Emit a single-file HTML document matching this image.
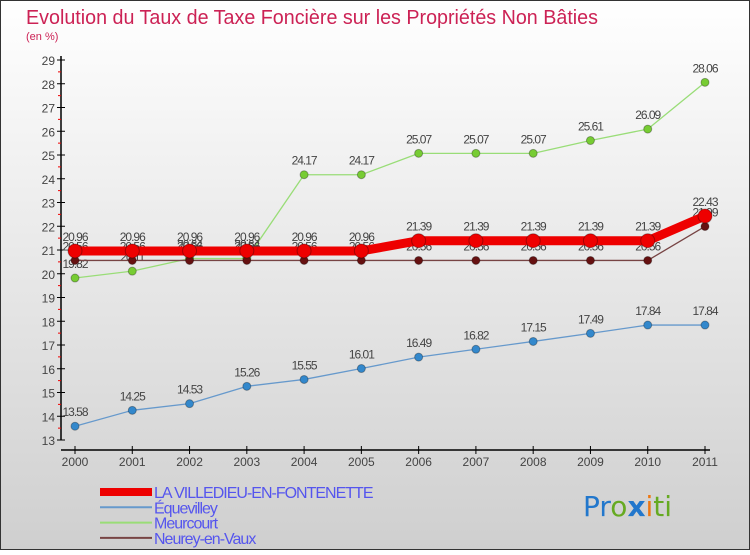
<!DOCTYPE html>
<html><head><meta charset="utf-8"><style>
body{margin:0;}
#c{width:750px;height:550px;position:relative;font-family:"Liberation Sans",sans-serif;}
</style></head><body>
<div id="c">
<svg id="s" width="750" height="550" xmlns="http://www.w3.org/2000/svg" font-family="Liberation Sans, sans-serif">
<defs><linearGradient id="bg" x1="0" y1="0" x2="0" y2="1"><stop offset="0" stop-color="#ffffff"/><stop offset="1" stop-color="#cfcfcf"/></linearGradient></defs>
<rect x="0.5" y="0.5" width="749" height="549" fill="url(#bg)" stroke="#333"/>
<text x="26" y="24" font-size="20" fill="#cc2255" textLength="572" lengthAdjust="spacingAndGlyphs">Evolution du Taux de Taxe Foncière sur les Propriétés Non Bâties</text>
<text x="26" y="40" font-size="11" fill="#cc2255">(en %)</text>
<g id="axes"></g><g id="series"></g><g id="legend"></g>
<text x="583" y="516" font-size="28" font-family="DejaVu Sans, sans-serif"><tspan fill="#2277cc">Pr</tspan><tspan fill="#66aa22">o</tspan><tspan fill="#2277cc" font-weight="bold">x</tspan><tspan fill="#ee7711">i</tspan><tspan fill="#66aa22">ti</tspan></text>
</svg>
</div>
<script>
const years=[2000,2001,2002,2003,2004,2005,2006,2007,2008,2009,2010,2011];
const villedieu=[20.96,20.96,20.96,20.96,20.96,20.96,21.39,21.39,21.39,21.39,21.39,22.43];
const equevilley=[13.58,14.25,14.53,15.26,15.55,16.01,16.49,16.82,17.15,17.49,17.84,17.84];
const meurcourt=[19.82,20.11,20.64,20.64,24.17,24.17,25.07,25.07,25.07,25.61,26.09,28.06];
const neurey=[20.56,20.56,20.56,20.56,20.56,20.56,20.56,20.56,20.56,20.56,20.56,21.99];
const yTicks=[13,14,15,16,17,18,19,20,21,22,23,24,25,26,27,28,29];
const NS="http://www.w3.org/2000/svg";
const xS=i=>75+i*(630/11);
const yS=v=>440-(v-13)*23.75;
function mk(t,a,p){const e=document.createElementNS(NS,t);for(const k in a)e.setAttribute(k,a[k]);p.appendChild(e);return e;}
const ax=document.getElementById('axes');
const yl=mk('line',{x1:61,y1:56,x2:61,y2:440,stroke:'#000','stroke-width':1.5},ax);


yTicks.forEach(v=>{
 mk('line',{x1:57,y1:yS(v),x2:65,y2:yS(v),stroke:'#000'},ax);
 if(v<29) mk('line',{x1:58,y1:yS(v+0.5),x2:61,y2:yS(v+0.5),stroke:'#e00'},ax);
 const t=mk('text',{x:55,y:yS(v)+5,'font-size':12,'text-anchor':'end',fill:'#444'},ax);t.textContent=v;
 
 
});
const xl=mk('line',{x1:61,y1:450,x2:710,y2:450,stroke:'#000','stroke-width':1.5},ax);


years.forEach((y,i)=>{
 mk('line',{x1:xS(i),y1:446,x2:xS(i),y2:454,stroke:'#000'},ax);
 const t=mk('text',{x:xS(i),y:466,'font-size':12,'text-anchor':'middle',fill:'#444'},ax);t.textContent=y;
 
 
});
const sg=document.getElementById('series');
function series(vals,color,dot,w,r,name,lblOff){
 const g=mk('g',{},sg);
 
 
 mk('polyline',{points:vals.map((v,i)=>xS(i)+','+yS(v)).join(' '),fill:'none',stroke:color,'stroke-width':w,'stroke-linejoin':'round'},g);
 vals.forEach((v,i)=>{
  const c=mk('circle',{cx:xS(i),cy:yS(v),r:r,fill:dot,stroke:'rgba(0,0,0,0.3)'},g);
  
  
  const t=mk('text',{x:xS(i),y:yS(v)+lblOff,'font-size':12,'text-anchor':'middle',fill:'#444','letter-spacing':'-1'},g);
  t.textContent=v.toFixed(2).replace(/0$/,'').replace(/\.$/,'');
  
  
 });
}
series(equevilley,'#6699cc','#3388cc',1.3,4,'equevilley-series',-10);
series(meurcourt,'#99dd77','#77cc33',1.3,4,'meurcourt-series',-10);
series(neurey,'#774444','#661111',1.3,4,'neurey-series',-10);
series(villedieu,'#ee0000','#ee0000',9,7,'villedieu-series',-10);
const lg=document.getElementById('legend');
const items=[['LA VILLEDIEU-EN-FONTENETTE','#ee0000',8],['Équevilley','#6699cc',2],['Meurcourt','#99dd77',2],['Neurey-en-Vaux','#774444',2]];
items.forEach((it,i)=>{
 const y=492+i*15.3;
 const g=mk('g',{},lg);
 
 
 mk('line',{x1:100,y1:y,x2:152,y2:y,stroke:it[1],'stroke-width':it[2]},g);
 const t=mk('text',{x:154,y:y+6,'font-size':16,fill:'#5555ee','letter-spacing':'-1'},g);t.textContent=it[0];
});
</script>
</body></html>
